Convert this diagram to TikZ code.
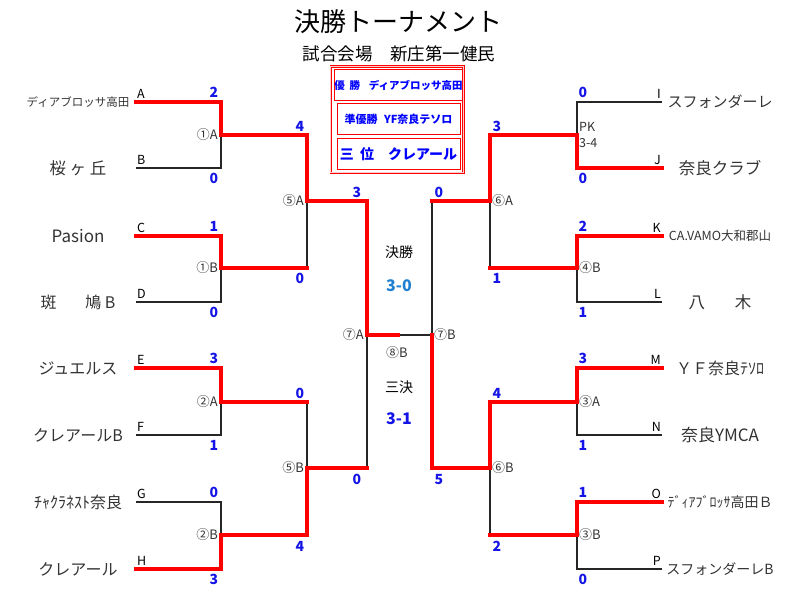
\documentclass[tikz,border=0pt]{standalone}
\usepackage{fontspec}
\setmainfont{Noto Sans CJK JP}
\usetikzlibrary{positioning}
\definecolor{scoreblue}{HTML}{1414E6}
\definecolor{finalblue}{HTML}{1F7FD0}
\newcommand{\fs}[1]{\fontsize{#1}{#1}\selectfont}

\begin{document}
\begin{tikzpicture}[x=1pt,y=-1pt,
  won/.style={draw=red,line width=4.5pt,line join=miter,line cap=rect},
  lost/.style={draw=black!85,line width=1.6pt},
  pts/.style={font=\fs{14}\bfseries,text=scoreblue,inner sep=0pt},
  up/.style={pts,anchor=south},
  dn/.style={pts,anchor=north},
  slot/.style={font=\fs{12.5},inner sep=0pt},
  game/.style={font=\fs{13},text=black!80,inner sep=0pt},
  team/.style={text=black!80,inner sep=0pt},
  award/.style={draw=red,line width=0.9pt,minimum width=123pt,minimum height=31pt,inner sep=0pt,text=blue},
  frame/.style={draw=red,double=red!20,double distance=1.2pt,line width=0.6pt}]
\useasboundingbox (0,0) rectangle (800,608);

\foreach \s/\y in {A/102,B/168,C/236,D/302,E/368,F/435,G/502,H/569}
  \coordinate (\s) at (136,\y);
\foreach \s/\y in {I/102,J/168,K/236,L/302,M/368,N/435,O/502,P/569}
  \coordinate (\s) at (662,\y);
\foreach \g/\x/\y in {g1A/221/135,g1B/221/268,g2A/221/402,g2B/221/535,g5A/307/201,g5B/307/468,g7A/367/335,
    g4A/577/135,g4B/577/268,g3A/577/402,g3B/577/535,g6A/490/201,g6B/490/468,g7B/432/335,fin/398/335}
  \coordinate (\g) at (\x,\y);

\path[lost] (B) -| (g1A) (D) -| (g1B) (F) -| (g2A) (G) -| (g2B)
  (I) -| (g4A) (L) -| (g4B) (N) -| (g3A) (P) -| (g3B)
  (g1B -| g5A) -- (g5A) (g2A -| g5B) -- (g5B) (g5B -| g7A) -- (g7A)
  (g4B -| g6A) -- (g6A) (g3B -| g6B) -- (g6B) (g6A -| g7B) -- (g7B)
  (fin) -- (g7B);
\path[won] (A) -| (g1A) -| (g5A) -| (g7A) -- (fin)
  (C) -| (g1B) -- (g1B -| g5A)
  (E) -| (g2A) -- (g2A -| g5B)
  (H) -| (g2B) -| (g5B) -- (g5B -| g7A)
  (J) -| (g4A) -| (g6A) -- (g6A -| g7B)
  (K) -| (g4B) -- (g4B -| g6A)
  (M) -| (g3A) -| (g6B) -| (g7B)
  (O) -| (g3B) -- (g3B -| g6B);

\foreach \s in {A,B,C,D,E,F,G,H}
  \node[slot,anchor=south west] (l\s) at ([shift={(1pt,3pt)}]\s) {\s};
\foreach \s in {I,J,K,L,M,N,O,P}
  \node[slot,anchor=south east] (l\s) at ([shift={(-1pt,3pt)}]\s) {\s};

\foreach \s/\n/\f in {A/ディアブロッサ高田/11.5,B/{桜 ヶ 丘}/16.5,C/Pasion/17,D/{斑\hspace{1.8em}鳩 B}/16,
    E/ジュエルス/16,F/クレアールB/16,G/ﾁｬｸﾗﾈｽﾄ奈良/16,H/クレアール/16}
  \node[team,font=\fs{\f}] (n\s) at ([xshift=-58pt]\s) {\n};
\foreach \s/\n/\f in {I/スフォンダーレ/15,J/奈良クラブ/16.5,K/CA.VAMO大和郡山/12.5,L/{八\hspace{1.8em}木}/16.5,
    M/ＹＦ奈良ﾃｿﾛ/16,N/奈良YMCA/17,O/ﾃﾞｨｱﾌﾞﾛｯｻ高田Ｂ/14,P/スフォンダーレB/14}
  \node[team,font=\fs{\f}] (n\s) at ([xshift=58pt]\s) {\n};

\foreach \s/\x/\y/\v in {A/214/98/2,C/214/232/1,E/214/364/3,G/214/498/0,1A/300/132/4,2A/300/399/0,5A/357/198/3,
    I/583/98/0,K/583/232/2,M/583/364/3,O/583/498/1,4A/497/132/3,3A/497/399/4,6A/439/198/0}
  \node[up] (s\s) at (\x,\y) {\v};
\foreach \s/\x/\y/\v in {B/214/173/0,D/214/307/0,F/214/440/1,H/214/574/3,1B/300/273/0,2B/300/541/4,5B/357/474/0,
    J/583/173/0,L/583/307/1,N/583/440/1,P/583/574/0,4B/497/273/1,3B/497/541/2,6B/439/474/5}
  \node[dn] (s\s) at (\x,\y) {\v};

\foreach \g/\t in {g1A/①A,g1B/①B,g2A/②A,g2B/②B,g5A/⑤A,g5B/⑤B,g7A/⑦A}
  \node[game,anchor=east] (m\g) at ([xshift=-3pt]\g) {\t};
\foreach \g/\t in {g4B/④B,g3A/③A,g3B/③B,g6A/⑥A,g6B/⑥B,g7B/⑦B}
  \node[game,anchor=west] (m\g) at ([xshift=2pt]\g) {\t};
\node[game,anchor=west,align=left,font={\fontsize{12.5}{16}\selectfont}] (pk) at ([xshift=2pt]g4A) {PK\\3-4};
\node[game] (m8B) at (397,353) {⑧B};

\node[font=\fs{14}] (final) at (399,252) {決勝};
\node[font=\fs{16}\bfseries,text=finalblue] (finalpts) at (399,286) {3-0};
\node[font=\fs{14}] (bronzegame) at (399,387) {三決};
\node[font=\fs{16}\bfseries,text=scoreblue] (bronzepts) at (399,419) {3-1};

\node[font=\fs{26}] (title) at (398,22) {決勝トーナメント};
\node[font=\fs{17.5}] (venue) at (399,54) {試合会場　新庄第一健民};

\node[award,font=\fs{10.5}\bfseries] (champ) at (398.5,85) {優\hspace{0.45em}勝\hspace{0.85em}ディアブロッサ高田};
\node[award,font=\fs{11}\bfseries,below=2.5pt of champ] (runner) {準優勝\hspace{0.6em}YF奈良テソロ};
\node[award,font=\fs{14}\bfseries,below=2.5pt of runner] (bronze) {三\hspace{0.45em}位\hspace{1em}クレアール};
\draw[frame] ([shift={(-3pt,2.5pt)}]champ.north west) rectangle ([shift={(3pt,-3pt)}]bronze.south east);
\end{tikzpicture}
\end{document}
